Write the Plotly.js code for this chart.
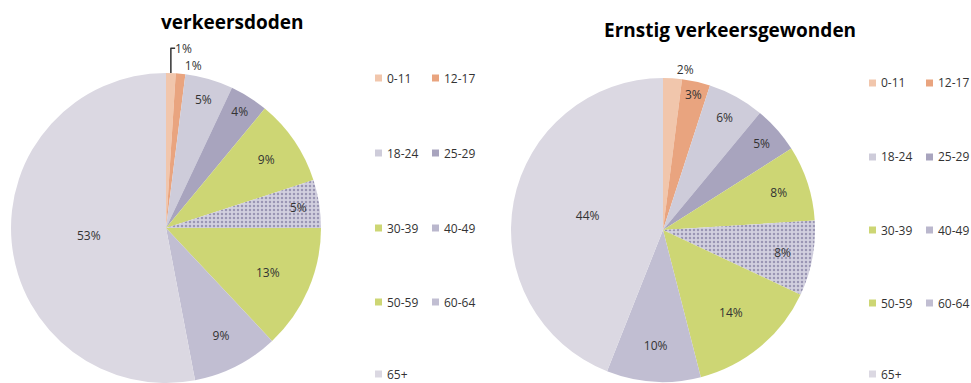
<!DOCTYPE html>
<html>
<head>
<meta charset="utf-8">
<script src="https://cdn.plot.ly/plotly-3.0.1.min.js"></script>
<style>html,body{margin:0;padding:0;background:#fff;}#chart{width:971px;height:383px;}</style>
</head>
<body>
<div id="chart"></div>
<script>
const categories = ["0-11", "12-17", "18-24", "25-29", "30-39", "40-49", "50-59", "60-64", "65+"];
const doden = [1, 1, 5, 4, 9, 5, 13, 9, 53];
const gewonden = [2, 3, 6, 5, 8, 8, 14, 10, 44];
const titles = ["verkeersdoden", "Ernstig verkeersgewonden"];

const colors = ["#F1C6AC", "#E9A47F", "#CECCDA", "#A8A4BE", "#CDD674", "#BAB7CD", "#CDD674", "#C1BED2", "#DBD8E2"];
const patterns = categories.map((c, i) => i === 5 ? "." : "");
const fontFam = "Open Sans, Noto Sans, sans-serif";
const textCol = "#333333";

function pieTrace(values, domain) {
  return {
    type: "pie",
    labels: categories,
    values: values,
    sort: false,
    direction: "clockwise",
    rotation: 0,
    domain: domain,
    textinfo: "percent",
    texttemplate: "%{value}%",
    textposition: values.map(v => v <= 2 ? "outside" : "inside"),
    insidetextorientation: "horizontal",
    textfont: {family: fontFam, size: 12, color: textCol},
    outsidetextfont: {family: fontFam, size: 12, color: textCol},
    marker: {
      colors: colors,
      line: {width: 0},
      pattern: {shape: patterns, fgcolor: "#9A96B4", bgcolor: "#D2D0DF", size: 4, solidity: 0.3}
    },
    showlegend: false,
    hoverinfo: "label+percent"
  };
}

const W = 971, H = 383;
const data = [
  pieTrace(doden, {x: [11 / W, 321 / W], y: [0, (H - 73) / H]}),
  pieTrace(gewonden, {x: [511 / W, 815 / W], y: [1 / H, (H - 78) / H]})
];

// Legends (two columns, five rows) built from the categories array
const annotations = [];
const shapes = [];
const legendSpecs = [
  {col: [375, 432], rows: [78, 153, 228, 302, 374]},
  {col: [869, 926], rows: [83, 157, 230, 303, 374]}
];
legendSpecs.forEach(spec => {
  categories.forEach((cat, i) => {
    const cx = spec.col[i % 2];
    const cy = spec.rows[Math.floor(i / 2)];
    shapes.push({
      type: "rect", xref: "paper", yref: "paper",
      x0: cx / W, x1: (cx + 7) / W, y0: 1 - (cy + 3.5) / H, y1: 1 - (cy - 3.5) / H,
      fillcolor: colors[i], line: {width: 0}
    });
    annotations.push({
      xref: "paper", yref: "paper", x: (cx + 10) / W, y: 1 - cy / H,
      xanchor: "left", yanchor: "middle", showarrow: false, text: cat,
      font: {family: fontFam, size: 12, color: textCol}
    });
  });
});
annotations.push({
  xref: "paper", yref: "paper", x: 232 / W, y: 1 - 22 / H, xanchor: "center", yanchor: "middle",
  showarrow: false, text: "<b>" + titles[0] + "</b>", font: {family: fontFam, size: 19, color: "#000"}
});
annotations.push({
  xref: "paper", yref: "paper", x: 730 / W, y: 1 - 30 / H, xanchor: "center", yanchor: "middle",
  showarrow: false, text: "<b>" + titles[1] + "</b>", font: {family: fontFam, size: 19, color: "#000"}
});

const layout = {
  width: W, height: H,
  margin: {l: 0, r: 0, t: 0, b: 0},
  paper_bgcolor: "#fff",
  showlegend: false,
  annotations: annotations,
  shapes: shapes,
  font: {family: fontFam}
};
Plotly.newPlot("chart", data, layout, {displayModeBar: false, staticPlot: true});
</script>
</body>
</html>
